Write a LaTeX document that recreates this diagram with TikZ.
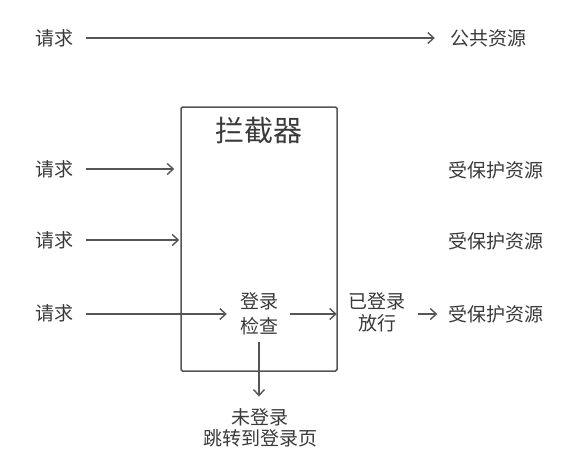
\documentclass[tikz,border=0pt]{standalone}
\usepackage{fontspec}
\setmainfont{Noto Sans CJK SC}
\usetikzlibrary{arrows.meta}
\definecolor{txt}{HTML}{3A3A3A}
\definecolor{ln}{HTML}{555555}
\begin{document}
\begin{tikzpicture}[x=1pt,y=-1pt,
  lbl/.style={inner sep=0pt,text=txt,font=\fontsize{19}{22}\selectfont},
  two/.style={lbl,align=center},
  conn/.style={draw=ln,line width=1.4pt,-{Straight Barb[length=6pt,width=11pt,line width=1.4pt]}},
  boxstyle/.style={draw=ln,line width=1.5pt,rounded corners=1.5pt,minimum width=156pt,minimum height=264pt,inner sep=0pt}]
\useasboundingbox (0,0) rectangle (588,472);
\fill[white] (0,0) rectangle (588,472);
% row 1
\node[lbl] (r1) at (54,38) {请求};
\node[lbl] (pub) at (488,38) {公共资源};
\draw[conn,shorten <=13pt,shorten >=15pt] (r1.east) -- (pub.west);
% box
\node[boxstyle] (box) at (259,239) {};
\node[lbl,font=\fontsize{29}{32}\selectfont] (title) at (258.5,131) {拦截器};
% requests
\node[lbl] (r2) at (54,169) {请求};
\node[lbl] (r3) at (54,240) {请求};
\node[lbl] (r4) at (54,313) {请求};
\node[two,font=\fontsize{19}{25.5}\selectfont] (check) at (259,314) {登录\\检查};
\node[two,font=\fontsize{19}{22}\selectfont] (pass) at (377,312) {已登录\\放行};
\node[lbl] (p1) at (496,170) {受保护资源};
\node[lbl] (p2) at (496,241) {受保护资源};
\node[lbl] (p3) at (496,314) {受保护资源};
\node[two,font=\fontsize{19}{21}\selectfont] (fail) at (260,428) {未登录\\跳转到登录页};
% connectors
\draw[conn,shorten <=13pt,shorten >=6pt] (r2.east) -- (r2.east -| box.west);
\draw[conn,shorten <=13pt,shorten >=1pt] (r3.east) -- (r3.east -| box.west);
\draw[conn,shorten <=13pt,shorten >=13pt] (r4.east |- check.west) -- (check.west);
\draw[conn,shorten <=12pt,shorten >=1pt] (check.east) -- (check.east -| box.east);
\draw[conn,shorten <=12pt,shorten >=11pt] (pass.east |- p3.west) -- (p3.west);
\draw[conn,shorten <=6pt,shorten >=12pt] (check.south) -- (fail.north -| check.south);
\end{tikzpicture}
\end{document}
